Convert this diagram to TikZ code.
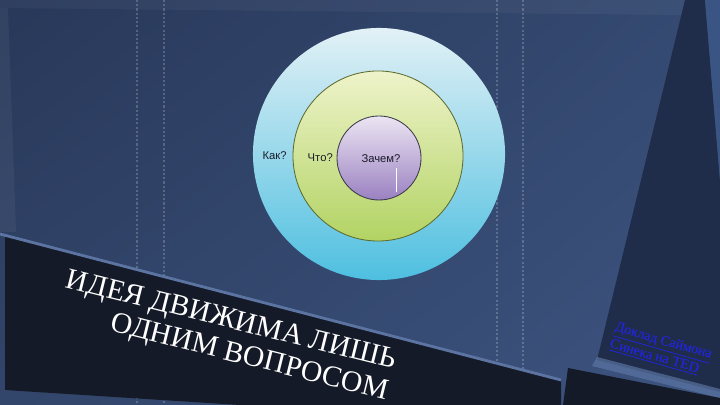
\documentclass[tikz,border=0pt]{standalone}
\usepackage{fontspec}
\usepackage{xcolor}
\usepackage{tikz}
\usetikzlibrary{positioning,shadings}
\setmainfont{Liberation Serif}
\newfontfamily\labelfont{Liberation Sans}
\definecolor{bgul}{HTML}{283859}
\definecolor{bgur}{HTML}{354A72}
\definecolor{bgll}{HTML}{32456A}
\definecolor{bglr}{HTML}{3D5480}
\definecolor{panel}{HTML}{202D4A}
\definecolor{panellight}{HTML}{3A5584}
\definecolor{banddark}{HTML}{151A28}
\definecolor{bandedge}{HTML}{5B74A2}
\definecolor{outertop}{HTML}{E2F1F6}
\definecolor{outerbot}{HTML}{4EBFE0}
\definecolor{greentop}{HTML}{EEF3CA}
\definecolor{greenbot}{HTML}{B2D363}
\definecolor{greenline}{HTML}{5E6B2E}
\definecolor{purpletop}{HTML}{ECE5F3}
\definecolor{purplebot}{HTML}{9A81C1}
\definecolor{purpleline}{HTML}{3B3A4A}
\definecolor{qtext}{HTML}{1B1B2A}
\definecolor{linkblue}{HTML}{2222FF}

\begin{document}
\begin{tikzpicture}[x=0.025cm,y=-0.025cm,
    ring/.style={circle,inner sep=0pt,line width=0.6pt},
    qlabel/.style={font=\labelfont\fontsize{8}{9.5}\selectfont,text=qtext,inner sep=1pt},
    guide/.style={draw=white,opacity=0.2,dash pattern=on 1.5pt off 1.5pt,line width=0.8pt}]
        \useasboundingbox (0,0) rectangle (720,405);
        \shade[upper left=bgul,upper right=bgur,lower left=bgll,lower right=bglr] (0,0) rectangle (720,405);
        \fill[white,opacity=0.04] (0,0) -- (685,0) -- (683,15) -- (0,8) -- cycle;
        \fill[white,opacity=0.05] (0,8) -- (8,8) -- (16,232) -- (0,232) -- cycle;
        %\fill[panel] (600,0) rectangle (720,405);
        \fill[panel] (685,0) -- (705,0) -- (720,180) -- (720,392) -- (597,360) -- cycle;
        \fill[panellight] (705,0) -- (720,0) -- (720,180) -- cycle;
        \foreach \x in {137,164,497,523}
            \draw[guide] (\x,0) -- (\x,405);
        \fill[bandedge,opacity=0.7] (597,357) -- (720,389) -- (720,398) -- (592,366) -- cycle;
        \fill[banddark] (568,368) -- (720,398) -- (720,405) -- (563,405) -- cycle;
        \fill[banddark] (5,236) -- (561,381) -- (561,405) -- (240,405) -- (5,390) -- cycle;
        \draw[bandedge,line width=2pt] (0,234) -- (561,380);
        \node[ring,minimum size=6.3cm,top color=outertop,bottom color=outerbot] (outer) at (379,154) {};
        \node[ring,minimum size=4.25cm,top color=greentop,bottom color=greenbot,draw=greenline] (middle) at (378,156) {};
        \node[ring,minimum size=2.1cm,top color=purpletop,bottom color=purplebot,draw=purpleline] (inner) at (379,158) {};
        \node[qlabel] (why) at (381,159) {Зачем?};
        \node[qlabel,left=1.5pt of inner.west] (what) {Что?};
        \node[qlabel,left=3pt of middle.west] (how) {Как?};
        \draw[white,line width=0.5pt] (396,168) -- (396,192);
        \node[rotate=-14,text=white,align=right,font=\fontsize{21}{22.5}\selectfont] (title) at (227,337) {ИДЕЯ ДВИЖИМА ЛИШЬ\\ОДНИМ ВОПРОСОМ};
        \node[rotate=-16,text=linkblue,align=left,font=\fontsize{10}{12.5}\selectfont] (talk) at (661,350) {\underline{Доклад Саймона}\\\underline{Синека на TED}};
    \end{tikzpicture}
\end{document}
